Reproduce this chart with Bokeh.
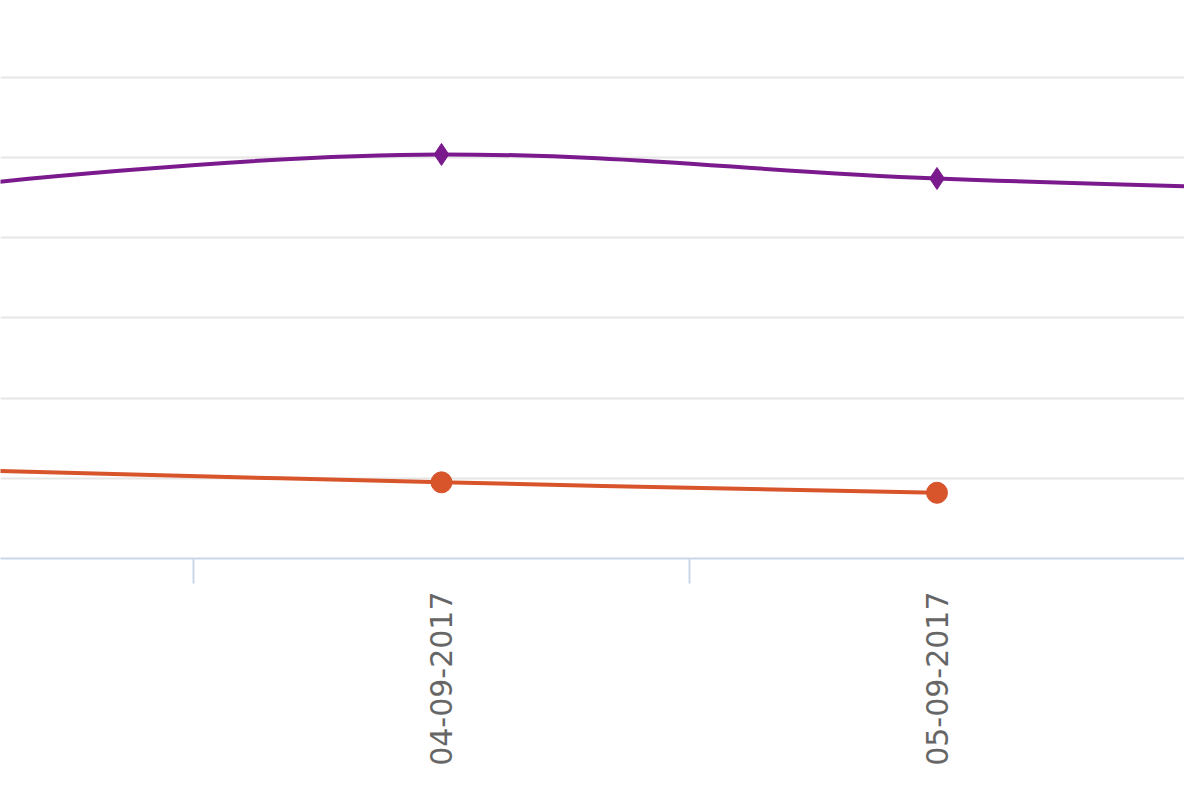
import math
from bokeh.plotting import figure
from bokeh.models import FixedTicker
from bokeh.embed import file_html
from bokeh.resources import INLINE

DATES = ["03-09-2017", "04-09-2017", "05-09-2017", "06-09-2017"]
SERIES_A = [46.3, 50.4, 47.4, 45.7]   # purple, diamond markers
SERIES_B = [11.1, 9.5, 8.2, None]     # orange, circle markers
Y_GRID = [0, 10, 20, 30, 40, 50, 60]

PURPLE = "#7a1a8c"
ORANGE = "#d8542b"
AXIS_COLOUR = "#ccd6eb"
GRID_COLOUR = "#e6e6e6"
LABEL_COLOUR = "#666666"

SMOOTHING = 1.5


def control_points(pts):
    # spline control points, same rule as a highcharts "spline" series
    n = len(pts)
    left = list(pts)
    right = list(pts)
    d = SMOOTHING + 1
    for i in range(1, n - 1):
        (lx, ly), (px, py), (nx, ny) = pts[i - 1], pts[i], pts[i + 1]
        lcx = (SMOOTHING * px + lx) / d
        lcy = (SMOOTHING * py + ly) / d
        rcx = (SMOOTHING * px + nx) / d
        rcy = (SMOOTHING * py + ny) / d
        corr = (rcy - lcy) * (rcx - px) / (rcx - lcx) + py - rcy
        lcy += corr
        rcy += corr
        if lcy > ly and lcy > py:
            lcy = max(ly, py)
            rcy = 2 * py - lcy
        elif lcy < ly and lcy < py:
            lcy = min(ly, py)
            rcy = 2 * py - lcy
        if rcy > ny and rcy > py:
            rcy = max(ny, py)
            lcy = 2 * py - rcy
        elif rcy < ny and rcy < py:
            rcy = min(ny, py)
            lcy = 2 * py - rcy
        left[i] = (lcx, lcy)
        right[i] = (rcx, rcy)
    return left, right


def spline(fig, values, colour, marker, size):
    pts = [(i, v) for i, v in enumerate(values) if v is not None]
    left, right = control_points(pts)
    segs = range(len(pts) - 1)
    fig.bezier(
        x0=[pts[i][0] for i in segs], y0=[pts[i][1] for i in segs],
        x1=[pts[i + 1][0] for i in segs], y1=[pts[i + 1][1] for i in segs],
        cx0=[right[i][0] for i in segs], cy0=[right[i][1] for i in segs],
        cx1=[left[i + 1][0] for i in segs], cy1=[left[i + 1][1] for i in segs],
        line_color=colour,
        line_width=4,
    )
    fig.scatter(
        x=[p[0] for p in pts],
        y=[p[1] for p in pts],
        marker=marker,
        size=size,
        fill_color=colour,
        line_color=colour,
    )


p = figure(
    width=1184,
    height=784,
    x_range=(0.110, 2.4995),
    y_range=(0, 69.6),
    y_axis_location=None,
    toolbar_location=None,
    tools="",
    output_backend="svg",
    min_border_left=0,
    min_border_right=0,
    min_border_top=0,
    min_border_bottom=226,
)
p.outline_line_color = None
p.background_fill_color = "white"

p.xgrid.visible = False
p.ygrid.ticker = FixedTicker(ticks=Y_GRID)
p.ygrid.grid_line_color = GRID_COLOUR
p.ygrid.grid_line_width = 2

centres = list(range(len(DATES)))
p.xaxis.ticker = FixedTicker(
    ticks=centres,
    minor_ticks=[c - 0.5 for c in centres] + [centres[-1] + 0.5],
)
p.xaxis.major_label_overrides = {c: d for c, d in zip(centres, DATES)}
p.xaxis.major_label_orientation = math.pi / 2
p.xaxis.major_label_text_font = "DejaVu Sans"
p.xaxis.major_label_text_font_size = "30px"
p.xaxis.major_label_text_color = LABEL_COLOUR
p.xaxis.major_label_standoff = 8
p.xaxis.major_tick_line_color = None
p.xaxis.major_tick_out = 0
p.xaxis.major_tick_in = 0
p.xaxis.minor_tick_line_color = AXIS_COLOUR
p.xaxis.minor_tick_line_width = 2
p.xaxis.minor_tick_out = 25
p.xaxis.minor_tick_in = 0
p.xaxis.axis_line_color = AXIS_COLOUR
p.xaxis.axis_line_width = 2

spline(p, SERIES_A, PURPLE, "diamond", 22)
spline(p, SERIES_B, ORANGE, "circle", 21)

open("out.html", "w").write(file_html(p, INLINE))
